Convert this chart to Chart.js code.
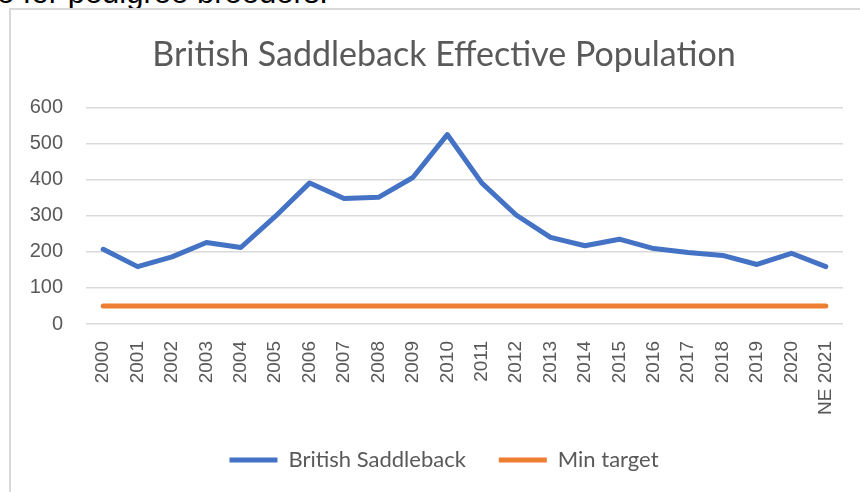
<!DOCTYPE html>
<html>
<head>
<meta charset="utf-8">
<script src="https://cdn.jsdelivr.net/npm/chart.js@4.4.1/dist/chart.umd.min.js"></script>
<style>
  html, body { margin: 0; padding: 0; background: #fff; overflow: hidden; width: 860px; height: 492px; }
  #above { position: absolute; left: -3px; top: -25px; font: 31px "Liberation Sans", Arial, sans-serif; color: #000; white-space: nowrap; }
  #frame { position: absolute; left: 9px; top: 8px; border-left: 2px solid #d9d9d9; border-top: 2px solid #d9d9d9; width: 866px; height: 482px; }
  canvas { display: block; }
</style>
</head>
<body>
<div id="above">e for pedigree breeders.</div>
<div id="frame"><canvas id="c" width="866" height="482"></canvas></div>
<script>
const categories = ['2000','2001','2002','2003','2004','2005','2006','2007','2008','2009','2010',
  '2011','2012','2013','2014','2015','2016','2017','2018','2019','2020','NE 2021'];
const saddleback = [207,159,186,226,212,298,391,348,351,406,525,391,302,240,217,235,209,198,190,165,196,159];
const minTarget = [50,50,50,50,50,50,50,50,50,50,50,50,50,50,50,50,50,50,50,50,50,50];
const yTicks = [0,100,200,300,400,500,600];

const grey = '#595959';
new Chart(document.getElementById('c'), {
  type: 'line',
  data: {
    labels: categories,
    datasets: [
      { label: 'British Saddleback', data: saddleback, borderColor: '#4472C4', backgroundColor: '#4472C4',
        borderWidth: 5, pointRadius: 0, tension: 0, borderCapStyle: 'round', borderJoinStyle: 'round' },
      { label: 'Min target', data: minTarget, borderColor: '#ED7D31', backgroundColor: '#ED7D31',
        borderWidth: 5, pointRadius: 0, tension: 0, borderCapStyle: 'round', borderJoinStyle: 'round' }
    ]
  },
  options: {
    responsive: false,
    animation: false,
    layout: { padding: { left: 0, right: 0, top: 0, bottom: 11 } },
    plugins: {
      title: { display: true, text: 'British Saddleback Effective Population', color: grey,
        font: { family: 'Lato', size: 34, weight: 'normal' }, padding: { top: 24.6, bottom: 32.1 } },
      legend: { position: 'bottom',
        labels: { usePointStyle: true, pointStyle: 'line', pointStyleWidth: 48, color: grey, padding: 33,
          font: { family: 'Lato', size: 22 } } },
      tooltip: { enabled: false }
    },
    scales: {
      x: { offset: true, grid: { display: false, drawTicks: false }, border: { display: false },
        ticks: { color: grey, font: { family: 'Liberation Sans', size: 19 }, maxRotation: 90, minRotation: 90, padding: 17, autoSkip: false },
        afterFit(s) { s.height = 92; } },
      y: { min: 0, max: 600, grid: { color: '#d9d9d9', lineWidth: 1.5, drawTicks: false }, border: { display: false },
        afterBuildTicks(s) { s.ticks = yTicks.map(v => ({ value: v })); },
        ticks: { color: grey, font: { family: 'Liberation Sans', size: 20 }, padding: 23 },
        afterFit(s) { s.width = 75; } },
      yr: { position: 'right', display: true, grid: { display: false, drawTicks: false }, border: { display: false },
        ticks: { display: false }, afterFit(s) { s.width = 34; } }
    }
  }
});
</script>
</body>
</html>
